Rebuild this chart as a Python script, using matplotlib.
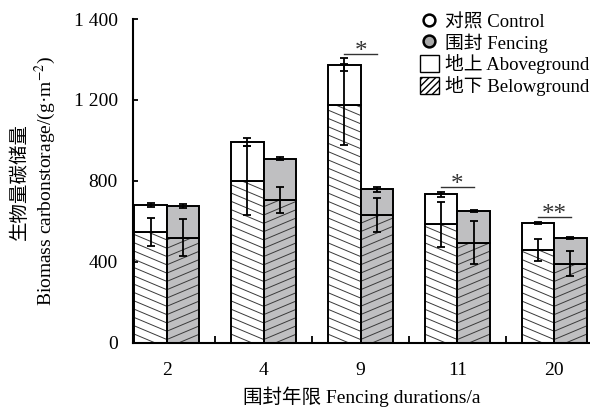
import matplotlib
matplotlib.use("Agg")
import matplotlib.pyplot as plt
import numpy as np
from matplotlib.lines import Line2D
from matplotlib.patches import Patch
from matplotlib.collections import LineCollection

plt.rcParams["font.family"] = ["Liberation Serif", "Noto Sans CJK SC"]
plt.rcParams["mathtext.fontset"] = "stix"

# Fencing durations (years)
years = ["2", "4", "9", "11", "20"]

# Total (above + below) biomass carbon storage, g/m2, with SE
control_total = [680, 992, 1374, 733, 593]
control_total_err = [12, 20, 32, 12, 5]
fencing_total = [677, 909, 757, 651, 519]
fencing_total_err = [10, 8, 12, 6, 5]

# Belowground part, g/m2, with SE
control_below = [547, 801, 1176, 584, 457]
control_below_err = [70, 170, 200, 110, 55]
fencing_below = [519, 704, 630, 493, 390]
fencing_below_err = [90, 64, 84, 106, 62]

# Significance between control and fencing
significance = ["", "", "*", "*", "**"]

y_ticks = [0, 400, 800, 1200, 1600]
y_tick_labels = ["0", "400", "800", "1 200", "1 400"]

GREY = "#bfbfc1"
HATCH_COLOR = "#3a3a3a"

fig = plt.figure(figsize=(5.9, 4.12), dpi=100)
ax = fig.add_axes([133 / 590, 69.5 / 412, 1 - 133 / 590, 323.5 / 412])

x = np.arange(len(years))
w = 0.335
xc = x - w / 2
xf = x + w / 2

ax.set_xlim(-0.35, 4.37)
ax.set_ylim(0, 1600)

control_above = np.array(control_total) - np.array(control_below)
fencing_above = np.array(fencing_total) - np.array(fencing_below)


def add_hatch(patch, direction, spacing=8.3, slope=0.42):
    """Slanted hatching lines clipped to a bar patch (spacing in pixels)."""
    T = ax.transData
    bx, by = patch.get_x(), patch.get_y()
    bw, bh = patch.get_width(), patch.get_height()
    p0 = T.transform((bx, by))
    p1 = T.transform((bx + bw, by + bh))
    wpx, hpx = p1[0] - p0[0], p1[1] - p0[1]
    segs = []
    if direction == "\\":
        cs = np.arange(0, hpx + slope * wpx + spacing, spacing)
        for c in cs:
            a = (p0[0], p0[1] + c)
            b = (p0[0] + wpx, p0[1] + c - slope * wpx)
            segs.append(T.inverted().transform([a, b]))
    else:
        cs = np.arange(-slope * wpx, hpx + spacing, spacing)
        for c in cs:
            a = (p0[0], p0[1] + c)
            b = (p0[0] + wpx, p0[1] + c + slope * wpx)
            segs.append(T.inverted().transform([a, b]))
    lc = LineCollection(segs, colors=HATCH_COLOR, linewidths=0.7, zorder=1.5)
    lc.set_clip_path(patch)
    ax.add_collection(lc)


# Belowground bars (fill), hatching, then outlines
cb = ax.bar(xc, control_below, w, color="white", edgecolor="none", zorder=1)
fb = ax.bar(xf, fencing_below, w, color=GREY, edgecolor="none", zorder=1)
for p in cb:
    add_hatch(p, "\\")
for p in fb:
    add_hatch(p, "/")
ax.bar(xc, control_below, w, fill=False, edgecolor="black", linewidth=1.4, zorder=2)
ax.bar(xf, fencing_below, w, fill=False, edgecolor="black", linewidth=1.4, zorder=2)

# Aboveground bars stacked on top
ax.bar(xc, control_above, w, bottom=control_below, color="white",
       edgecolor="black", linewidth=1.4, zorder=2)
ax.bar(xf, fencing_above, w, bottom=fencing_below, color=GREY,
       edgecolor="black", linewidth=1.4, zorder=2)

eb_kw = dict(fmt="none", ecolor="black", elinewidth=1.3, capsize=3.2,
             capthick=1.3, zorder=3)
ax.errorbar(xc, control_total, yerr=control_total_err, **eb_kw)
ax.errorbar(xf, fencing_total, yerr=fencing_total_err, **eb_kw)
ax.errorbar(xc, control_below, yerr=control_below_err, **eb_kw)
ax.errorbar(xf, fencing_below, yerr=fencing_below_err, **eb_kw)

# Significance marks
for i, s in enumerate(significance):
    if not s:
        continue
    top = max(control_total[i] + control_total_err[i],
              fencing_total[i] + fencing_total_err[i])
    ly = top + 22
    ax.plot([x[i] - 0.17, x[i] + 0.17], [ly, ly], color="#333333",
            linewidth=1.0, zorder=3)
    ax.text(x[i], ly - 20, s, ha="center", va="baseline", fontsize=18,
            color="#333333")

# Axes styling
for side in ("top", "right"):
    ax.spines[side].set_visible(False)
for side in ("left", "bottom"):
    ax.spines[side].set_linewidth(1.5)

ax.set_yticks(y_ticks)
ax.set_yticklabels(y_tick_labels)
ax.tick_params(axis="y", direction="in", length=3.5, width=1.3, pad=11,
               labelsize=14)
ax.set_xticks(x)
ax.set_xticklabels(years)
ax.set_xticks(x[:-1] + 0.5, minor=True)
ax.tick_params(axis="x", which="major", length=0, pad=14, labelsize=14)
ax.tick_params(axis="x", which="minor", direction="in", length=5, width=1.3)

fig.text((133 + 0.5 * (457)) / 590 - 0.0, 1 - 397 / 412,
         "围封年限 Fencing durations/a", ha="center", va="center", fontsize=14)
fig.text(34 / 590, 1 - 181.5 / 412,
         "生物量碳储量\nBiomass carbonstorage/(g·m$^{-2}$)",
         rotation=90, ha="center", va="center", multialignment="center",
         fontsize=14, linespacing=1.2)

handles = [
    Line2D([], [], marker="o", linestyle="", markerfacecolor="white",
           markeredgecolor="black", markeredgewidth=1.8, markersize=8.5),
    Line2D([], [], marker="o", linestyle="", markerfacecolor="#a8a8a8",
           markeredgecolor="black", markeredgewidth=1.8, markersize=8.5),
    Patch(facecolor="white", edgecolor="black", linewidth=1.0),
    Patch(facecolor="white", edgecolor="black", linewidth=1.0, hatch="/////"),
]
labels = ["对照 Control", "围封 Fencing", "地上 Aboveground", "地下 Belowground"]
fig.legend(handles, labels, loc="upper left",
           bbox_to_anchor=(420 / 590, 1 - 13 / 412), frameon=False,
           fontsize=13.5, borderpad=0, borderaxespad=0, handlelength=1.0,
           handleheight=1.0, handletextpad=0.35, labelspacing=0.08)

fig.savefig("out.png", dpi=100)
